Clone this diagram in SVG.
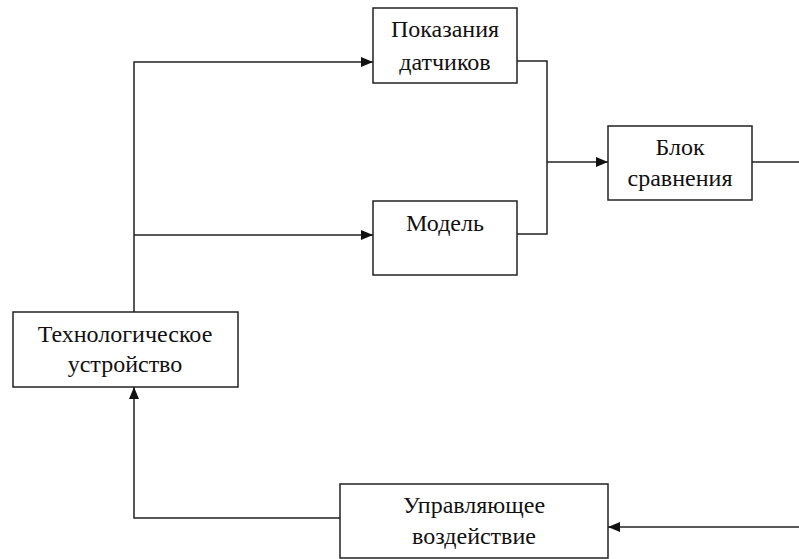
<svg xmlns="http://www.w3.org/2000/svg" width="799" height="559" viewBox="0 0 799 559">
<defs>
<marker id="ah" viewBox="0 0 12 10" refX="12" refY="5" markerWidth="12" markerHeight="10" markerUnits="userSpaceOnUse" orient="auto">
<path d="M0,0 L12,5 L0,10 z" fill="#111"/>
</marker>
<style>
.box{fill:#fff;stroke:#222;stroke-width:1.5}
.ln{fill:none;stroke:#222;stroke-width:1.5}
.t{font-family:"Liberation Serif","Times New Roman",serif;font-size:24px;fill:#111;text-anchor:middle}
</style>
</defs>
<rect width="799" height="559" fill="#fff"/>
<g id="connectors">
<path class="ln" d="M134,312 V62 H373" marker-end="url(#ah)"/>
<path class="ln" d="M134,235 H373" marker-end="url(#ah)"/>
<path class="ln" d="M517,61 H547 V234 H517"/>
<path class="ln" d="M547,162 H608" marker-end="url(#ah)"/>
<path class="ln" d="M752,162 H799"/>
<path class="ln" d="M799,527 H608" marker-end="url(#ah)"/>
<path class="ln" d="M340,518 H134 V387" marker-end="url(#ah)"/>
</g>
<g id="sensors">
<rect class="box" x="373" y="8" width="144" height="75"/>
<text class="t" x="445" y="37">Показания</text>
<text class="t" x="445" y="70">датчиков</text>
</g>
<g id="model">
<rect class="box" x="373" y="201" width="144" height="74"/>
<text class="t" x="445" y="231">Модель</text>
</g>
<g id="compare">
<rect class="box" x="608" y="126" width="144" height="74"/>
<text class="t" x="680" y="155">Блок</text>
<text class="t" x="680" y="186">сравнения</text>
</g>
<g id="device">
<rect class="box" x="13" y="312" width="225" height="75"/>
<text class="t" x="125" y="342">Технологическое</text>
<text class="t" x="125" y="372">устройство</text>
</g>
<g id="control">
<rect class="box" x="340" y="484" width="268" height="74"/>
<text class="t" x="474" y="513">Управляющее</text>
<text class="t" x="474" y="544">воздействие</text>
</g>
</svg>
